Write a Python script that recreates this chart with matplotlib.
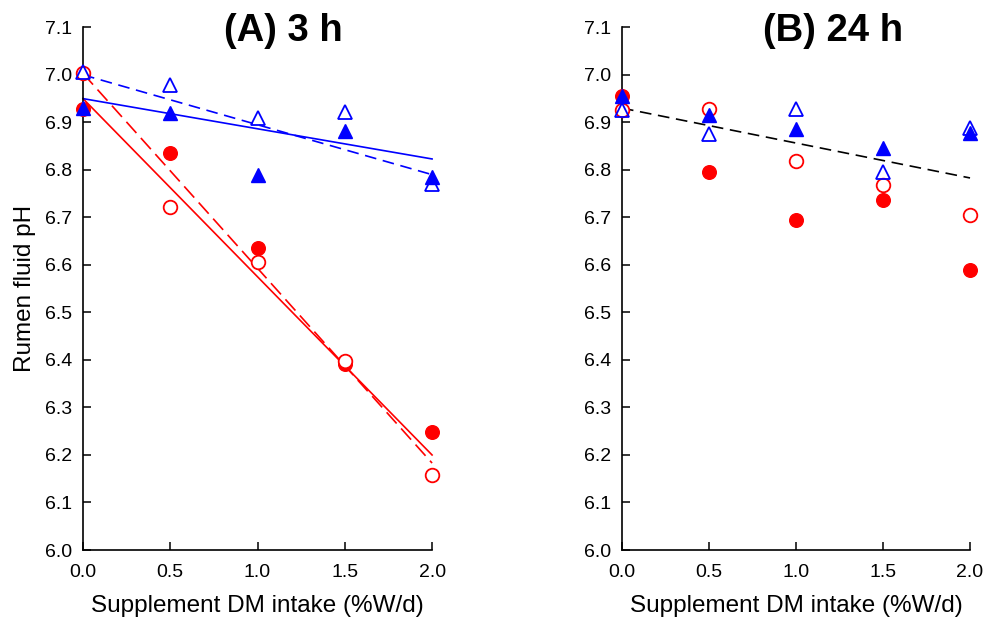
import numpy as np
import matplotlib
matplotlib.use("Agg")
import matplotlib.pyplot as plt

plt.rcParams['font.family'] = ['Liberation Sans', 'DejaVu Sans']

# supplement DM intake, %W/d
intake = [0.0, 0.5, 1.0, 1.5, 2.0]

# (A) 3 h after feeding
ph3_red_filled = [6.929, 6.836, 6.635, 6.391, 6.248]
ph3_red_open = [7.003, 6.722, 6.606, 6.398, 6.158]
ph3_blue_filled = [6.930, 6.920, 6.790, 6.882, 6.786]
ph3_blue_open = [7.005, 6.978, 6.910, 6.922, 6.770]

# (B) 24 h after feeding
ph24_red_filled = [6.955, 6.795, 6.695, 6.737, 6.590]
ph24_red_open = [6.925, 6.928, 6.818, 6.768, 6.705]
ph24_blue_filled = [6.955, 6.915, 6.887, 6.847, 6.877]
ph24_blue_open = [6.925, 6.875, 6.928, 6.795, 6.888]

# fitted lines: (intercept, slope)
fit3_red_filled = (6.950, -0.375)
fit3_red_open = (7.003, -0.410)
fit3_blue_filled = (6.950, -0.0635)
fit3_blue_open = (7.000, -0.105)
fit24_all = (6.930, -0.0735)

fig = plt.figure(figsize=(9.86, 6.2), dpi=100)
axA = fig.add_axes([0.0842, 0.1129, 0.354, 0.843])
axB = fig.add_axes([0.6308, 0.1129, 0.353, 0.843])

ms = 9.8
xs = np.array([0.0, 2.0])


def fit_line(ax, fit, color, ls, dashes=None):
    b0, b1 = fit
    line, = ax.plot(xs, b0 + b1 * xs, color=color, lw=1.2, ls=ls, zorder=2,
                    clip_on=False)
    if dashes:
        line.set_dashes(dashes)


def points(ax, rf, ro, bf, bo):
    ax.plot(intake, rf, 'o', color='red', ms=ms, mec='red', zorder=3, clip_on=False)
    ax.plot(intake, ro, 'o', color='red', ms=ms, mfc='white', mec='red',
            mew=1.3, zorder=3, clip_on=False)
    ax.plot(intake, bf, '^', color='blue', ms=ms, mec='blue', zorder=4, clip_on=False)
    ax.plot(intake, bo, '^', color='blue', ms=ms, mfc='none', mec='blue',
            mew=1.3, zorder=4, clip_on=False)


fit_line(axA, fit3_red_filled, 'red', '-')
fit_line(axA, fit3_red_open, 'red', '--', (9, 4))
fit_line(axA, fit3_blue_filled, 'blue', '-')
fit_line(axA, fit3_blue_open, 'blue', '--', (7, 4))
points(axA, ph3_red_filled, ph3_red_open, ph3_blue_filled, ph3_blue_open)

fit_line(axB, fit24_all, 'black', '--', (7, 4))
points(axB, ph24_red_filled, ph24_red_open, ph24_blue_filled, ph24_blue_open)

for ax, title, tx in [(axA, '(A) 3 h', 0.573), (axB, '(B) 24 h', 0.606)]:
    ax.set_xlim(0, 2.0)
    ax.set_ylim(6.0, 7.1)
    ax.set_xticks([0.0, 0.5, 1.0, 1.5, 2.0])
    ax.set_xticklabels(['0.0', '0.5', '1.0', '1.5', '2.0'])
    ax.set_yticks(np.arange(6.0, 7.15, 0.1))
    ax.set_yticklabels(['%.1f' % v for v in np.arange(6.0, 7.15, 0.1)])
    ax.spines['top'].set_visible(False)
    ax.spines['right'].set_visible(False)
    for s in ('left', 'bottom'):
        ax.spines[s].set_linewidth(1.2)
    ax.tick_params(direction='in', length=6, width=1.1, labelsize=14)
    ax.tick_params(axis='x', pad=10)
    ax.tick_params(axis='y', pad=8)
    ax.set_xlabel('Supplement DM intake (%W/d)', fontsize=17.5, labelpad=10)
    ax.text(tx, 0.993, title, transform=ax.transAxes, ha='center', va='center',
            fontsize=27.5, fontweight='bold')

axA.set_ylabel('Rumen fluid pH', fontsize=17.5, labelpad=6)

fig.savefig('out.png', dpi=100)
